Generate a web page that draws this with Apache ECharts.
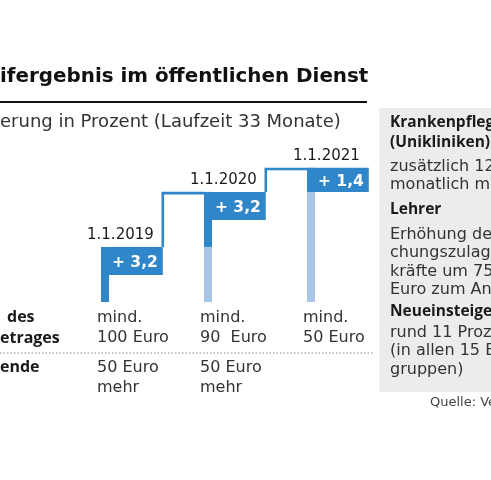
<!DOCTYPE html>
<html><head><meta charset="utf-8">
<script src="https://cdn.jsdelivr.net/npm/echarts@6/dist/echarts.min.js"></script>
<style>html,body{margin:0;padding:0;background:#fff}#c{width:491px;height:480px}</style>
</head><body><div id="c"></div>
<script>
const dates = ['1.1.2019', '1.1.2020', '1.1.2021'];
const increases = [3.2, 3.2, 1.4];
const increaseLabels = ['+ 3,2', '+ 3,2', '+ 1,4'];
const minAmounts = ['mind.\n100 Euro', 'mind.\n90  Euro', 'mind.\n50 Euro'];
const traineeAmounts = ['50 Euro\nmehr', '50 Euro\nmehr', ''];
const rowLabels = ['des', 'etrages', 'ende'];
const titleText = 'ifergebnis im öffentlichen Dienst';
const subtitleText = 'erung in Prozent (Laufzeit 33 Monate)';
const sideNotes = [
  ['Krankenpflege', true], ['(Unikliniken)', true], ['zusätzlich 120', false], ['monatlich mehr', false],
  ['Lehrer', true], ['Erhöhung der', false], ['chungszulage', false], ['kräfte um 75', false], ['Euro zum An', false],
  ['Neueinsteiger', true], ['rund 11 Prozent', false], ['(in allen 15 Entgelt-', false], ['gruppen)', false]
];
const sourceText = 'Quelle: Verdi';

const cumulative = [];
increases.reduce((s, v, i) => (cumulative[i] = +(s + v).toFixed(1)), 0);
const data = increases.map((v, i) => [i, cumulative[i], cumulative[i] - v]);

const DARK = '#2f86c9', LIGHT = '#a8c5e8';
const REG = "'DejaVu Sans', sans-serif";
const BOLD = "'Open Sans', sans-serif";

const chart = echarts.init(document.getElementById('c'));

function renderItem(params, api) {
  const i = api.value(0);
  const cum = api.value(1), prev = api.value(2);
  const pTop = api.coord([i, cum]);
  const pPrev = api.coord([i, prev]);
  const pBase = api.coord([i, 0]);
  const x = pTop[0];
  const bw = api.size([0.6, 0])[0];
  const stemW = 8;
  const incH = pPrev[1] - pTop[1];
  const bh = Math.min(28, incH);
  const children = [];
  if (prev > 0) {
    children.push({ type: 'rect', shape: { x: x, y: pPrev[1], width: stemW, height: pBase[1] - pPrev[1] }, style: { fill: LIGHT } });
  }
  children.push({ type: 'rect', shape: { x: x, y: pTop[1], width: stemW, height: incH }, style: { fill: DARK } });
  children.push({ type: 'rect', shape: { x: x, y: pTop[1], width: bw, height: bh }, style: { fill: DARK } });
  children.push({ type: 'text', style: { x: x + bw - 5, y: pTop[1] + bh / 2 + 2, text: increaseLabels[i], fill: '#fff', font: 'bold 15.5px ' + REG, align: 'right', verticalAlign: 'middle' } });
  children.push({ type: 'text', style: { x: x + bw - 9, y: pTop[1] - 12, text: dates[i], fill: '#1a1a1a', font: '15px ' + REG, align: 'right', verticalAlign: 'middle' } });
  if (i < increases.length - 1) {
    const nTop = api.coord([i + 1, cumulative[i + 1]]);
    children.push({ type: 'polyline', shape: { points: [[x + bw, pTop[1]], [x + bw, nTop[1] + 1.2], [nTop[0], nTop[1] + 1.2]] }, style: { stroke: DARK, lineWidth: 2.6, fill: null } });
  }
  children.push({ type: 'text', style: { x: x - 4, y: 328, text: minAmounts[i], fill: '#333', font: '16px ' + REG, lineHeight: 20.5, align: 'left', verticalAlign: 'middle' } });
  children.push({ type: 'text', style: { x: x - 4, y: 378, text: traineeAmounts[i], fill: '#333', font: '16px ' + REG, lineHeight: 20, align: 'left', verticalAlign: 'middle' } });
  return { type: 'group', children };
}

const graphics = [
  { type: 'text', style: { x: 0, y: 77, text: titleText, font: 'bold 19.9px ' + REG, fill: '#111', align: 'left', verticalAlign: 'middle' } },
  { type: 'rect', shape: { x: 0, y: 101, width: 367, height: 2 }, style: { fill: '#111' } },
  { type: 'text', style: { x: 0, y: 122, text: subtitleText, font: '18px ' + REG, fill: '#333', align: 'left', verticalAlign: 'middle' } },
  { type: 'text', style: { x: 7, y: 317, text: rowLabels[0], font: 'bold 16px ' + BOLD, fill: '#1a1a1a', align: 'left', verticalAlign: 'middle' } },
  { type: 'text', style: { x: 0, y: 338, text: rowLabels[1], font: 'bold 16px ' + BOLD, fill: '#1a1a1a', align: 'left', verticalAlign: 'middle' } },
  { type: 'text', style: { x: 0, y: 367, text: rowLabels[2], font: 'bold 16px ' + BOLD, fill: '#1a1a1a', align: 'left', verticalAlign: 'middle' } },
  { type: 'line', shape: { x1: 0, y1: 353, x2: 373, y2: 353 }, style: { stroke: '#888', lineWidth: 1, lineDash: [1.5, 2] } },
  { type: 'rect', shape: { x: 379, y: 108, width: 120, height: 284 }, style: { fill: '#ececec' } }
];
const sideYs = [123, 143, 167, 185, 210, 235, 253, 272, 290, 312, 333, 351, 370];
sideNotes.forEach((n, k) => {
  graphics.push({ type: 'text', style: { x: 390, y: sideYs[k], text: n[0], font: n[1] ? 'bold 15.5px ' + BOLD : '16px ' + REG, fill: n[1] ? '#1a1a1a' : '#333', align: 'left', verticalAlign: 'middle' } });
});
graphics.push({ type: 'text', style: { x: 430, y: 403, text: sourceText, font: '13px ' + REG, fill: '#444', align: 'left', verticalAlign: 'middle' } });

chart.setOption({
  animation: false,
  backgroundColor: '#fff',
  grid: { left: 101, right: 81, top: 130, bottom: 178 },
  xAxis: { type: 'value', min: 0, max: 3, show: false },
  yAxis: { type: 'value', min: 0, max: 10, show: false },
  series: [{ type: 'custom', renderItem, data, clip: false, encode: { x: 0, y: 1 } }],
  graphic: graphics
});
</script></body></html>
